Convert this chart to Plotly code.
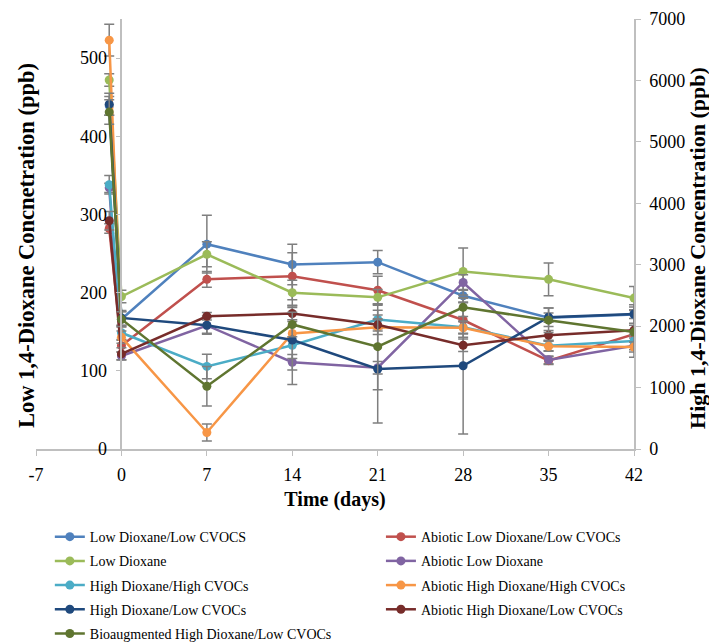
import plotly.graph_objects as go

days = [-1, 0, 7, 14, 21, 28, 35, 42]
x_ticks = [-7, 0, 7, 14, 21, 28, 35, 42]

names = [
    "Low Dioxane/Low CVOCS",
    "Abiotic Low Dioxane/Low CVOCs",
    "Low Dioxane",
    "Abiotic Low Dioxane",
    "High Dioxane/High CVOCs",
    "Abiotic High Dioxane/High CVOCs",
    "High Dioxane/Low CVOCs",
    "Abiotic High Dioxane/Low CVOCs",
    "Bioaugmented High Dioxane/Low CVOCs",
]

# Low dioxane series (left axis, ppb)
low_low_cvocs = [439, 166, 262, 236, 239, 196, 168, 172]
abiotic_low_low_cvocs = [282, 132, 217, 221, 203, 165, 113, 147]
low_dioxane = [472, 195, 249, 200, 194, 227, 217, 193]
abiotic_low_dioxane = [334, 119, 158, 111, 104, 213, 114, 132]

# High dioxane series (right axis, ppb)
high_high_cvocs = [4302, 1892, 1344, 1689, 2108, 1984, 1680, 1758]
abiotic_high_high_cvocs = [6656, 1820, 269, 1882, 1984, 1973, 1673, 1661]
high_low_cvocs = [5613, 2134, 2016, 1774, 1302, 1355, 2145, 2198]
abiotic_high_low_cvocs = [3716, 1548, 2161, 2205, 2021, 1689, 1850, 1935]
bioaug_high_low_cvocs = [5485, 2113, 1021, 2027, 1666, 2306, 2097, 1903]

# Error bars (standard deviations, estimated)
err_low_low_cvocs = [12, 10, 37, 26, 15, 8, 6, 5]
err_abiotic_low_low_cvocs = [6, 8, 10, 30, 18, 22, 5, 5]
err_low_dioxane = [8, 8, 16, 16, 10, 30, 21, 15]
err_abiotic_low_dioxane = [6, 5, 10, 10, 8, 10, 5, 5]
err_high_high_cvocs = [150, 120, 200, 640, 150, 100, 80, 90]
err_abiotic_high_high_cvocs = [260, 100, 140, 120, 120, 100, 80, 80]
err_high_low_cvocs = [180, 120, 150, 300, 880, 1110, 150, 150]
err_abiotic_high_low_cvocs = [150, 100, 60, 100, 100, 100, 80, 80]
err_bioaug_high_low_cvocs = [200, 120, 320, 200, 700, 150, 200, 410]

series = [
    (low_low_cvocs, err_low_low_cvocs, "#4F81BD", "y", "legend"),
    (abiotic_low_low_cvocs, err_abiotic_low_low_cvocs, "#C0504D", "y", "legend2"),
    (low_dioxane, err_low_dioxane, "#9BBB59", "y", "legend"),
    (abiotic_low_dioxane, err_abiotic_low_dioxane, "#8064A2", "y", "legend2"),
    (high_high_cvocs, err_high_high_cvocs, "#4BACC6", "y2", "legend"),
    (abiotic_high_high_cvocs, err_abiotic_high_high_cvocs, "#F79646", "y2", "legend2"),
    (high_low_cvocs, err_high_low_cvocs, "#1F497D", "y2", "legend"),
    (abiotic_high_low_cvocs, err_abiotic_high_low_cvocs, "#772C2A", "y2", "legend2"),
    (bioaug_high_low_cvocs, err_bioaug_high_low_cvocs, "#5F7530", "y2", "legend"),
]

FONT = "Liberation Serif"

fig = go.Figure()
for i, (name, (vals, errs, color, yax, leg)) in enumerate(zip(names, series)):
    fig.add_trace(go.Scatter(
        x=days, y=vals, name=name, yaxis=yax, legend=leg, legendgroup=f"g{i}",
        mode="lines+markers",
        line=dict(color=color, width=2.5),
        marker=dict(color=color, size=9),
        error_y=dict(type="data", array=errs, visible=True,
                     color="#7F7F7F", thickness=1.5, width=5),
    ))

axis_line = "#BFBFBF"
legend_common = dict(
    orientation="v", xref="container", yref="container",
    xanchor="left", yanchor="top",
    font=dict(family=FONT, size=14, color="black"),
    itemwidth=30, tracegroupgap=3, bgcolor="rgba(0,0,0,0)",
)
fig.update_layout(
    width=709, height=635,
    margin=dict(l=28, r=83, t=11, b=194, autoexpand=False),
    paper_bgcolor="white", plot_bgcolor="white",
    font=dict(family=FONT, size=15, color="black"),
    showlegend=True,
    legend=dict(x=0.059, y=0.192, **legend_common),
    legend2=dict(x=0.526, y=0.192, **legend_common),
    xaxis=dict(
        range=[-7, 42], tickvals=x_ticks, ticktext=[str(t) for t in x_ticks],
        showline=True, linecolor=axis_line, linewidth=1.5,
        ticks="outside", ticklen=5, tickcolor=axis_line,
        showgrid=False, zeroline=False, automargin=False,
        ticklabelstandoff=4,
        title=dict(text="<b>Time (days)</b>", font=dict(family=FONT, size=20), standoff=8),
        tickfont=dict(family=FONT, size=18),
    ),
    yaxis=dict(
        range=[0, 550], tickvals=[0, 100, 200, 300, 400, 500],
        anchor="free", position=1/7,
        showline=True, linecolor=axis_line, linewidth=1.5,
        ticks="outside", ticklen=5, tickcolor=axis_line,
        showgrid=False, zeroline=False, automargin=False,
        ticklabelstandoff=5, ticklabeloverflow="allow",
        tickfont=dict(family=FONT, size=18),
    ),
    yaxis2=dict(
        range=[0, 7000], tickvals=list(range(0, 7001, 1000)),
        overlaying="y", side="right", anchor="x",
        showline=True, linecolor=axis_line, linewidth=1.5,
        ticks="outside", ticklen=5, tickcolor=axis_line,
        showgrid=False, zeroline=False, automargin=False,
        ticklabelstandoff=5, ticklabeloverflow="allow",
        tickfont=dict(family=FONT, size=18),
    ),
    annotations=[
        dict(text="<b>Low 1,4-Dioxane Concnetration (ppb)</b>", textangle=-90,
             xref="paper", yref="paper", x=-0.017, y=0.474,
             xanchor="center", yanchor="middle", showarrow=False,
             font=dict(family=FONT, size=22.5, color="black")),
        dict(text="<b>High 1,4-Dioxane Concentration (ppb)</b>", textangle=-90,
             xref="paper", yref="paper", x=1.105, y=0.467,
             xanchor="center", yanchor="middle", showarrow=False,
             font=dict(family=FONT, size=22, color="black")),
    ],
)

fig.write_html("out.html")
